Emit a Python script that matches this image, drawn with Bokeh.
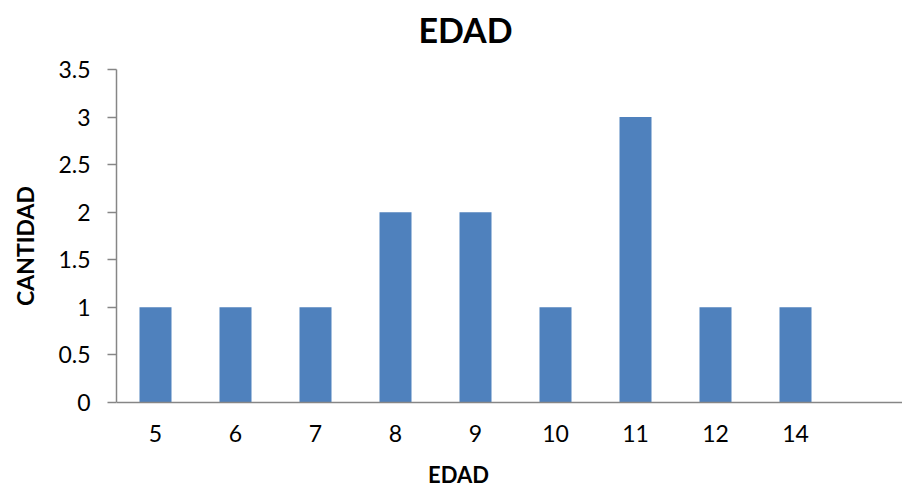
from bokeh.plotting import figure
from bokeh.models import Range1d, FixedTicker, Label, ColumnDataSource
from bokeh.embed import file_html
from bokeh.resources import INLINE

categories = ["5", "6", "7", "8", "9", "10", "11", "12", "14"]
counts = [1, 1, 1, 2, 2, 1, 3, 1, 1]
y_ticks = [0, 0.5, 1, 1.5, 2, 2.5, 3, 3.5]
y_tick_labels = ["0", "0.5", "1", "1.5", "2", "2.5", "3", "3.5"]
title_text = "EDAD"
x_title = "EDAD"
y_title = "CANTIDAD"

FONT = "Lato"
W, H = 902, 491
LEFT = 116            # frame left (px)
Y0_PX, YTOP_PX = 402, 69   # pixel rows of y=0 and y=3.5
CAT_PX = 80.0
FIRST_PX = 155.0
ypx = 3.5 / (Y0_PX - YTOP_PX)

positions = list(range(len(categories)))
src = ColumnDataSource(dict(x=positions, top=counts))

p = figure(width=W, height=H, output_backend="svg", toolbar_location=None,
           x_range=Range1d((LEFT - FIRST_PX) / CAT_PX, (W - FIRST_PX) / CAT_PX),
           y_range=Range1d(-(H - Y0_PX) * ypx, 3.5 + YTOP_PX * ypx),
           min_border_left=LEFT, min_border_right=0, min_border_top=0, min_border_bottom=0)
p.title = None
p.outline_line_color = None
p.xgrid.visible = False
p.ygrid.visible = False

p.vbar(x="x", top="top", width=0.4, bottom=0, source=src, fill_color="#4F81BD", line_color=None)

# X axis (sits at y = 0)
p.xaxis.fixed_location = 0
p.xaxis.ticker = FixedTicker(ticks=positions)
p.xaxis.major_label_overrides = {i: c for i, c in enumerate(categories)}
p.xaxis.major_tick_line_color = None
p.xaxis.minor_tick_line_color = None
p.xaxis.axis_line_color = "#868686"
p.xaxis.axis_line_width = 1.5
p.xaxis.major_label_text_font = FONT
p.xaxis.major_label_text_font_size = "23px"
p.xaxis.major_label_text_color = "black"
p.xaxis.major_label_standoff = 16

# Y axis
p.yaxis.bounds = (0, 3.5)
p.yaxis.ticker = FixedTicker(ticks=y_ticks)
p.yaxis.major_label_overrides = {t: l for t, l in zip(y_ticks, y_tick_labels)}
p.yaxis.minor_tick_line_color = None
p.yaxis.axis_line_color = "#868686"
p.yaxis.axis_line_width = 1.5
p.yaxis.major_tick_line_color = "#868686"
p.yaxis.major_tick_line_width = 1.5
p.yaxis.major_tick_out = 9
p.yaxis.major_tick_in = 0
p.yaxis.major_label_text_font = FONT
p.yaxis.major_label_text_font_size = "23px"
p.yaxis.major_label_text_color = "black"
p.yaxis.major_label_standoff = 17
p.yaxis.axis_label = y_title
p.yaxis.axis_label_text_font = FONT
p.yaxis.axis_label_text_font_style = "bold"
p.yaxis.axis_label_text_font_size = "23px"
p.yaxis.axis_label_text_color = "black"
p.yaxis.axis_label_standoff = 16

p.add_layout(Label(x=(465 - FIRST_PX) / CAT_PX, y=3.5 + (YTOP_PX - 29) * ypx, text=title_text,
                   text_font=FONT, text_font_style="bold", text_font_size="34px",
                   text_align="center", text_baseline="alphabetic", text_color="black"))
p.add_layout(Label(x=(458 - FIRST_PX) / CAT_PX, y=-(474 - Y0_PX) * ypx, text=x_title,
                   text_font=FONT, text_font_style="bold", text_font_size="22px",
                   text_align="center", text_baseline="alphabetic", text_color="black"))

open("out.html", "w").write(file_html(p, INLINE))
